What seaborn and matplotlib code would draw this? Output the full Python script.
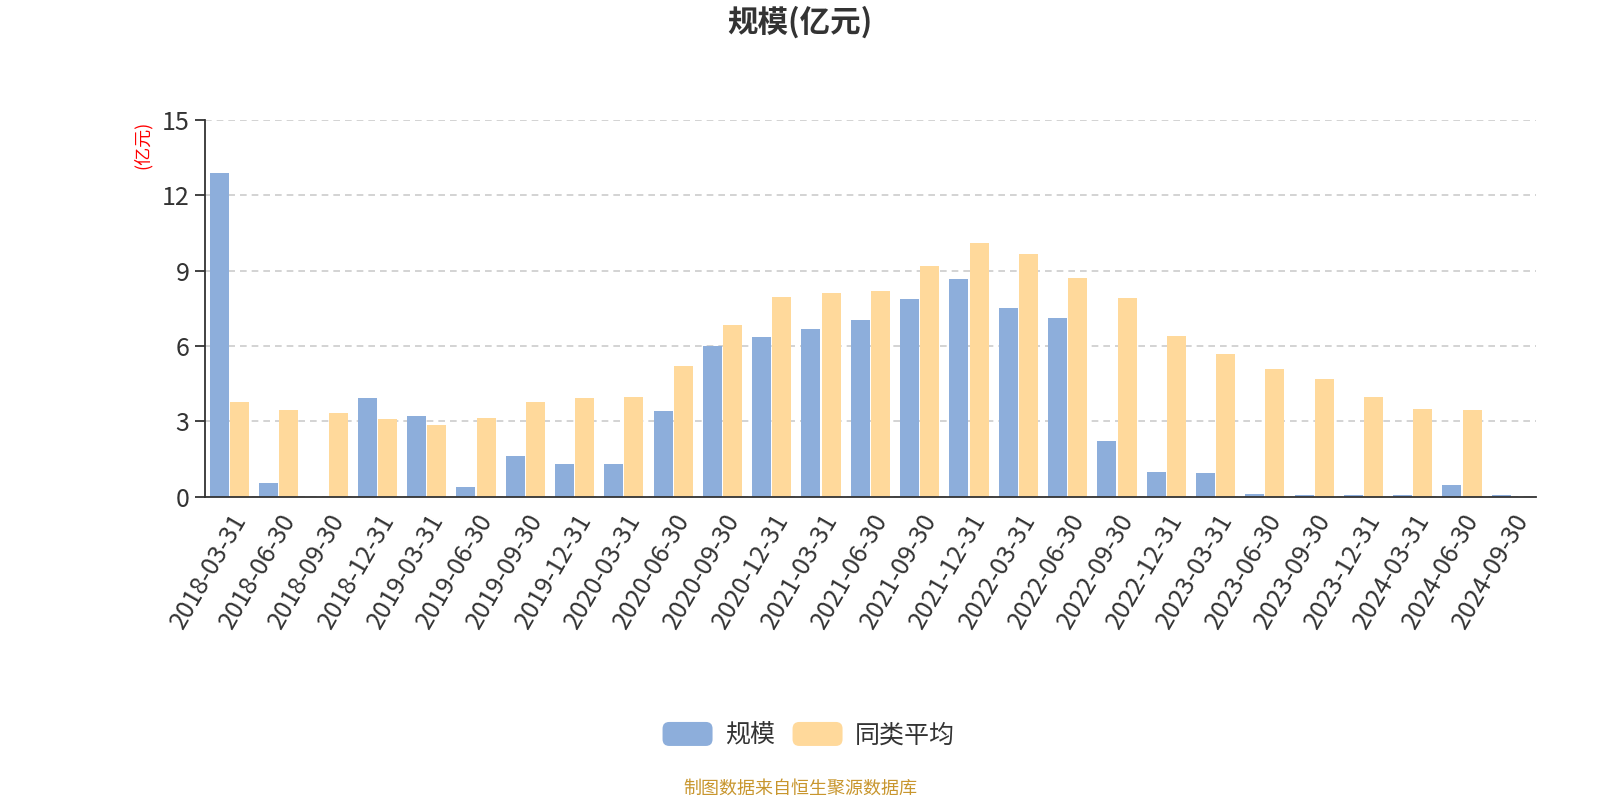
import matplotlib
matplotlib.use("Agg")
import matplotlib.pyplot as plt
import numpy as np
import pandas as pd
import seaborn as sns
from matplotlib.legend_handler import HandlerPatch
from matplotlib.patches import FancyBboxPatch, Patch

# Data
dates = [
    "2018-03-31", "2018-06-30", "2018-09-30", "2018-12-31",
    "2019-03-31", "2019-06-30", "2019-09-30", "2019-12-31",
    "2020-03-31", "2020-06-30", "2020-09-30", "2020-12-31",
    "2021-03-31", "2021-06-30", "2021-09-30", "2021-12-31",
    "2022-03-31", "2022-06-30", "2022-09-30", "2022-12-31",
    "2023-03-31", "2023-06-30", "2023-09-30", "2023-12-31",
    "2024-03-31", "2024-06-30", "2024-09-30",
]
scale = [
    12.89, 0.53, 0.0, 3.94, 3.21, 0.41, 1.63, 1.30, 1.30, 3.41,
    6.02, 6.38, 6.67, 7.03, 7.89, 8.66, 7.52, 7.11, 2.24, 0.98,
    0.93, 0.10, 0.08, 0.08, 0.08, 0.48, 0.07,
]
peer_avg = [
    3.78, 3.46, 3.33, 3.09, 2.85, 3.13, 3.78, 3.94, 3.98, 5.20,
    6.83, 7.97, 8.13, 8.21, 9.19, 10.12, 9.67, 8.70, 7.93, 6.42,
    5.69, 5.08, 4.67, 3.98, 3.49, 3.47, np.nan,
]
series_names = ["规模", "同类平均"]

df = pd.DataFrame({
    "date": dates * 2,
    "value": scale + peer_avg,
    "series": [series_names[0]] * len(dates) + [series_names[1]] * len(dates),
})

blue = "#8DAEDB"
orange = "#FFD99B"

sns.set_style("white")
plt.rcParams["font.family"] = ["Noto Sans CJK SC", "DejaVu Sans"]


class RoundHandler(HandlerPatch):
    def create_artists(self, legend, orig_handle, xdescent, ydescent,
                       width, height, fontsize, trans):
        p = FancyBboxPatch(
            (-xdescent, -ydescent), width, height,
            boxstyle="round,pad=0,rounding_size=%f" % (height * 0.28),
            facecolor=orig_handle.get_facecolor(), edgecolor="none",
            transform=trans,
        )
        return [p]


fig = plt.figure(figsize=(16, 8), dpi=100)
ax = fig.add_axes([0.128, 0.379, 0.832, 0.471])

sns.barplot(
    data=df, x="date", y="value", hue="series", hue_order=series_names,
    palette=[blue, orange], saturation=1, width=0.82, gap=0.06,
    edgecolor="none", ax=ax, legend=False,
)

ax.set_xlim(-0.5, len(dates) - 0.5)
ax.set_ylim(0, 15)
ax.set_yticks([0, 3, 6, 9, 12, 15])
ax.set_xlabel("")
ax.set_ylabel("")

ax.yaxis.grid(True, color="#cccccc", linestyle=(0, (4, 3)), linewidth=1.2)
ax.set_axisbelow(True)

for s in ["top", "right"]:
    ax.spines[s].set_visible(False)
for s in ["left", "bottom"]:
    ax.spines[s].set_color("#333333")
    ax.spines[s].set_linewidth(1.3)

ax.set_xticks(range(len(dates)))
ax.set_xticklabels(dates, rotation=60, ha="right", rotation_mode="anchor")
ax.set_xticks(np.arange(-0.5, len(dates), 1), minor=True)
ax.tick_params(axis="x", which="major", length=0, pad=9,
               labelsize=18, labelcolor="#333333")
ax.tick_params(axis="x", which="minor", length=7, width=1.3, color="#333333")
ax.tick_params(axis="y", length=7, width=1.3, color="#333333", pad=4,
               labelsize=18, labelcolor="#333333", left=True)

fig.text(0.5, 0.972, "规模(亿元)", ha="center", va="center",
         fontsize=22, fontweight="bold", color="#333333")
fig.text(0.089, 0.819, "(亿元)", ha="center", va="center", rotation=90,
         fontsize=13, color="red")

handles = [Patch(facecolor=blue), Patch(facecolor=orange)]
fig.legend(handles, series_names, loc="center", bbox_to_anchor=(0.5055, 0.081),
           ncol=2, frameon=False, fontsize=18, handlelength=2.0,
           handleheight=1.1, columnspacing=0.7, handletextpad=0.5,
           labelcolor="#333333", handler_map={Patch: RoundHandler()})

fig.text(0.5, 0.014, "制图数据来自恒生聚源数据库", ha="center", va="center",
         fontsize=13, color="#C8962E")

fig.savefig("out.png", dpi=100)
